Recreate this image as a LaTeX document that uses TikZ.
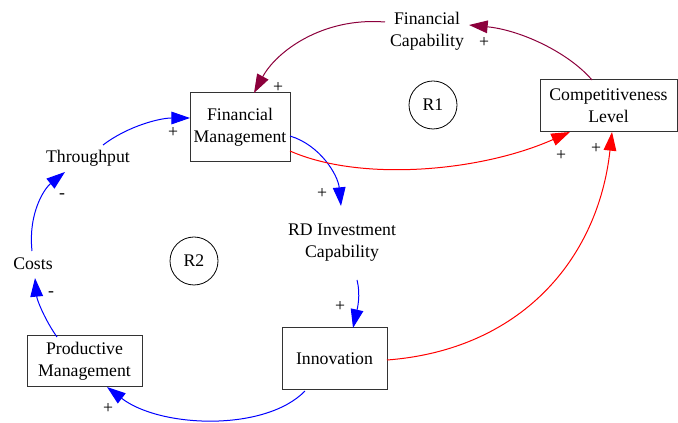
\documentclass[tikz,border=0pt]{standalone}
\usepackage{fontspec}
\setmainfont{Liberation Serif}
\newfontfamily\tmsfont{Liberation Serif}
\usetikzlibrary{arrows.meta}
\definecolor{wine}{RGB}{140,0,60}
\begin{document}
\begin{tikzpicture}[x=0.75pt,y=-0.75pt,
  every node/.style={font=\tmsfont\fontsize{13.3pt}{16.5pt}\selectfont, inner sep=0pt, align=center},
  boxnode/.style={draw=black!80, line width=0.75pt, rectangle},
  lbl/.style={font=\tmsfont\fontsize{13.3pt}{16.5pt}\selectfont},
  loopc/.style={draw, circle, minimum size=36pt, line width=0.6pt},
  link/.style={line width=0.75pt},
  blink/.style={link, draw=blue, -{Triangle[length=14pt,width=9.5pt,fill=blue]}},
  rlink/.style={link, draw=red, -{Triangle[length=14pt,width=9.5pt,fill=red]}},
  wlink/.style={link, draw=wine, -{Triangle[length=14pt,width=9.5pt,fill=wine]}}]
\useasboundingbox (0,0) rectangle (678,423);
% nodes
\node[boxnode, minimum width=75pt, minimum height=51.75pt] (fm) at (240,127.5) {Financial\\Management};
\node[boxnode, minimum width=102.75pt, minimum height=39pt] (cl) at (608.5,106) {Competitiveness\\Level};
\node[boxnode, minimum width=86.25pt, minimum height=38.25pt] (pm) at (84.5,361.5) {Productive\\Management};
\node[boxnode, minimum width=78.75pt, minimum height=46.5pt] (in) at (334.5,359) {Innovation};
\node (fc) at (427,31) {Financial\\Capability};
\node (tp) at (88,158) {Throughput};
\node (co) at (33,264) {Costs};
\node (rd) at (342,243) {RD Investment\\Capability};
\node[loopc] (r1) at (433,105) {R1};
\node[loopc] (r2) at (194,261) {R2};
% anchor points
\coordinate (a1) at (592,80);
\coordinate (b1) at (469,25);
\coordinate (a2) at (385,22);
\coordinate (b2) at (254,93);
\coordinate (a3) at (103,145);
\coordinate (b3) at (190,118);
\coordinate (a4) at (32,251);
\coordinate (b4) at (65,172);
\coordinate (a5) at (57,337);
\coordinate (b5) at (35,278);
\coordinate (a6) at (305,391);
\coordinate (b6) at (107,387);
\coordinate (a7) at (290,136);
\coordinate (b7) at (341,206);
\coordinate (a8) at (357,280);
\coordinate (b8) at (353,328);
\coordinate (a9) at (387,360);
\coordinate (b9) at (612,132);
\coordinate (a10) at (290,151);
\coordinate (b10) at (570,132);
% connectors
\draw[wlink] (a1) .. controls (568,52) and (520,30) .. (b1);
\draw[wlink] (a2) .. controls (322,17) and (276,52) .. (b2);
\draw[blink] (a3) .. controls (128,126) and (160,118) .. (b3);
\draw[blink] (a4) .. controls (28,212) and (45,188) .. (b4);
\draw[blink] (a5) .. controls (45,320) and (37,300) .. (b5);
\draw[blink] (a6) .. controls (265,432) and (160,428) .. (b6);
\draw[blink] (a7) .. controls (320,145) and (338,175) .. (b7);
\draw[blink] (a8) .. controls (361,295) and (357,310) .. (b8);
\draw[rlink] (a9) .. controls (520,350) and (598,260) .. (b9);
\draw[rlink] (a10) .. controls (360,182) and (480,172) .. (b10);
% polarity labels
\node[lbl] (p1) at (484,42) {+};
\node[lbl] (p2) at (278,87) {+};
\node[lbl] (p3) at (173,132) {+};
\node[lbl] (p4) at (62,196) {-};
\node[lbl] (p5) at (51,294) {-};
\node[lbl] (p6) at (108,408) {+};
\node[lbl] (p7) at (322,193) {+};
\node[lbl] (p8) at (340,306) {+};
\node[lbl] (p9) at (596,148) {+};
\node[lbl] (p10) at (561,155) {+};
\end{tikzpicture}
\end{document}
